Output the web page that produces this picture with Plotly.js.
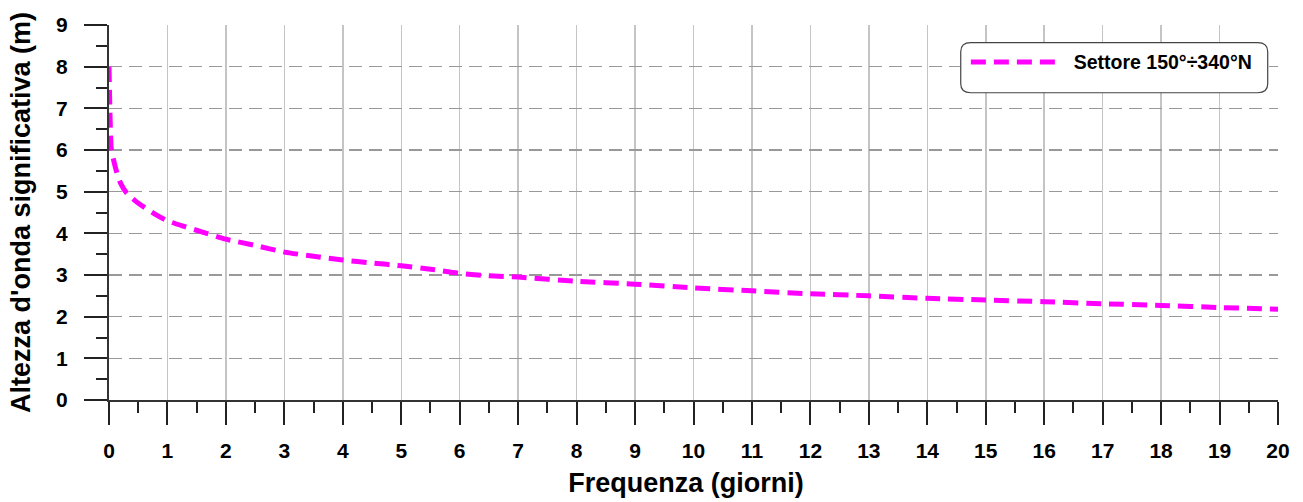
<!DOCTYPE html>
<html>
<head>
<meta charset="utf-8">
<script src="https://cdn.plot.ly/plotly-3.0.1.min.js"></script>
<style>html,body{margin:0;padding:0;background:#fff;}#chart{width:1303px;height:502px;}</style>
</head>
<body>
<div id="chart"></div>
<script>
// Data
const seriesName = "Settore 150°÷340°N";
const frequenzaGiorni = [0, 0.01, 0.02, 0.04, 0.08, 0.125, 0.2, 0.3, 0.45, 0.6, 0.8, 1, 1.3, 1.6, 2, 2.5, 3, 3.5, 4, 4.5, 5, 5.5, 6, 6.5, 7, 8, 9, 10, 11, 12, 13, 14, 15, 16, 17, 18, 19, 20];
const altezzaOnda = [8.0, 7.3, 6.7, 6.0, 5.75, 5.5, 5.2, 4.97, 4.78, 4.63, 4.45, 4.3, 4.16, 4.03, 3.86, 3.71, 3.55, 3.45, 3.36, 3.29, 3.22, 3.14, 3.04, 2.98, 2.95, 2.85, 2.78, 2.69, 2.62, 2.55, 2.50, 2.44, 2.40, 2.36, 2.31, 2.27, 2.22, 2.18];
const xTitle = "Frequenza (giorni)";
const yTitle = "Altezza d'onda significativa (m)";

const fam = "Liberation Sans, Arial, sans-serif";

const trace = {
  x: frequenzaGiorni,
  y: altezzaOnda,
  type: "scatter",
  mode: "lines",
  name: "&nbsp;&nbsp;<b>" + seriesName + "</b>",
  line: {color: "#ff00ff", width: 5, dash: "15px,8px", shape: "spline", smoothing: 0.6}
};

const tickFont = {family: fam, size: 21, color: "#000", weight: "bold"};
const titleFont = {family: fam, size: 27, color: "#000", weight: "bold"};

const axisCommon = {
  showline: true,
  linecolor: "#333",
  linewidth: 2,
  ticks: "outside",
  ticklen: 23,
  tickwidth: 2,
  tickcolor: "#222",
  zeroline: false,
  tickfont: tickFont
};

const layout = {
  width: 1303,
  height: 502,
  margin: {l: 109, r: 25, t: 25, b: 102},
  paper_bgcolor: "#fff",
  plot_bgcolor: "#fff",
  showlegend: true,
  legend: {
    x: 0.733, y: 0.9528, xanchor: "left", yanchor: "top",
    bgcolor: "rgba(0,0,0,0)", borderwidth: 0,
    itemwidth: 87,
    font: {family: fam, size: 19.5, color: "#000"}
  },
  xaxis: Object.assign({}, axisCommon, {
    range: [0, 20],
    dtick: 1,
    tick0: 0,
    showgrid: true,
    gridcolor: "#c4c4c4",
    gridwidth: 1.5,
    ticklabelstandoff: 8,
    minor: {dtick: 0.5, ticks: "outside", ticklen: 11, tickwidth: 2, tickcolor: "#222", showgrid: false},
    title: {text: "<b>" + xTitle + "</b>&nbsp;&nbsp;", standoff: 12, font: titleFont}
  }),
  yaxis: Object.assign({}, axisCommon, {
    range: [0, 9],
    dtick: 1,
    tick0: 0,
    showgrid: true,
    gridcolor: "#999",
    gridwidth: 1.5,
    griddash: "13px,7px",
    ticklabelstandoff: 12,
    minor: {dtick: 0.5, ticks: "outside", ticklen: 11, tickwidth: 2, tickcolor: "#222", showgrid: false},
    title: {text: "<b>" + yTitle + "</b>", standoff: 18, font: titleFont}
  }),
  shapes: [{
    type: "path", xref: "paper", yref: "paper", layer: "above",
    path: "M 0.7372 0.9528 L 0.9826 0.9528 Q 0.9912 0.9528 0.9912 0.9288 L 0.9912 0.8433 Q 0.9912 0.8193 0.9826 0.8193 L 0.7372 0.8193 Q 0.7286 0.8193 0.7286 0.8433 L 0.7286 0.9288 Q 0.7286 0.9528 0.7372 0.9528 Z",
    fillcolor: "#fff",
    line: {color: "#444", width: 1.2}
  }]
};

Plotly.newPlot("chart", [trace], layout, {displayModeBar: false, staticPlot: true});
</script>
</body>
</html>
